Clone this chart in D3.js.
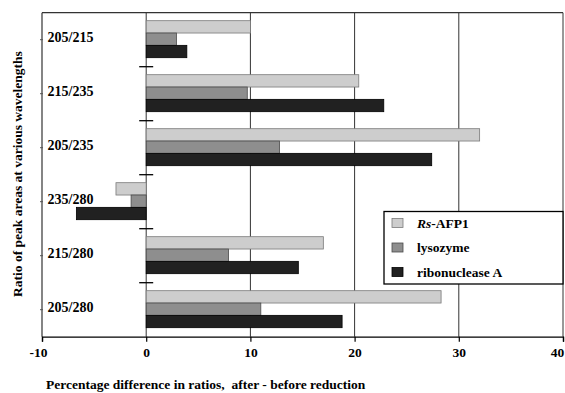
<!DOCTYPE html>
<html><head><meta charset="utf-8">
<script src="https://cdn.jsdelivr.net/npm/d3@7"></script>
<style>
body{margin:0;background:#fff;}
svg{display:block;font-family:"Liberation Serif","Times New Roman",serif;font-weight:bold;}
</style></head>
<body><svg id="c" width="565" height="393"></svg>
<script>
const categories = ["205/215","215/235","205/235","235/280","215/280","205/280"];
const seriesNames = ["Rs-AFP1","lysozyme","ribonuclease A"];
const rsAFP1 =      [10.0, 20.4, 32.0, -2.9, 17.0, 28.3];
const lysozyme =    [2.9, 9.7, 12.8, -1.45, 7.9, 11.0];
const ribonuclease = [3.9, 22.8, 27.4, -6.7, 14.6, 18.8];
const xTicks = [-10, 0, 10, 20, 30, 40];
const xTitle = "Percentage difference in ratios,  after - before reduction";
const yTitle = "Ratio of peak areas at various wavelengths";

const fills = ["#cdcdcd","#8e8e8e","#212121"];
const strokes = ["#7a7a7a","#4a4a4a","#000"];
const values = [rsAFP1, lysozyme, ribonuclease];

const svg = d3.select("#c");
const L = 42, R = 563, T = 12.7, B = 336.7;
const x = d3.scaleLinear().domain([-10, 40]).range([L, R]);
const y = d3.scaleBand().domain(categories).range([T, B]).padding(0);
const bw = y.bandwidth();
const yi = d3.scaleBand().domain(seriesNames).range([bw*0.148, bw*0.833]).padding(0);

// vertical gridlines
svg.append("g").selectAll("line").data(xTicks.filter(d => d > -10))
  .join("line").attr("x1", d => x(d)).attr("x2", d => x(d))
  .attr("y1", T).attr("y2", B).attr("stroke", "#333").attr("stroke-width", 1);

// frame
svg.append("line").attr("x1", L).attr("x2", L).attr("y1", T).attr("y2", B).attr("stroke", "#333").attr("stroke-width", 1.2);
svg.append("line").attr("x1", L).attr("x2", R).attr("y1", T).attr("y2", T).attr("stroke", "#333").attr("stroke-width", 1.2);

// left border small ticks at category centers
svg.append("g").selectAll("line").data(categories).join("line")
  .attr("x1", L - 2).attr("x2", L + 1)
  .attr("y1", d => y(d) + bw/2).attr("y2", d => y(d) + bw/2)
  .attr("stroke", "#555");

// bars
seriesNames.forEach((s, si) => {
  svg.append("g").selectAll("rect").data(categories.map((c, i) => ({c, v: values[si][i]})))
    .join("rect")
    .attr("x", d => x(Math.min(0, d.v)))
    .attr("width", d => Math.abs(x(d.v) - x(0)))
    .attr("y", d => y(d.c) + yi(s))
    .attr("height", yi.bandwidth())
    .attr("fill", fills[si]).attr("stroke", strokes[si]).attr("stroke-width", 0.8);
});

// zero line ticks at category boundaries
svg.append("g").selectAll("line").data(categories.slice(1)).join("line")
  .attr("x1", x(0) - 7).attr("x2", x(0) + 7)
  .attr("y1", d => y(d)).attr("y2", d => y(d))
  .attr("stroke", "#000").attr("stroke-width", 1.3);

// x axis
const xa = svg.append("g").attr("transform", `translate(0,${B})`)
  .call(d3.axisBottom(x).tickValues(xTicks).tickSize(5).tickFormat(d => String(d)));
xa.select(".domain").attr("stroke", "#000").attr("stroke-width", 1.3);
xa.selectAll(".tick line").attr("stroke", "#000").attr("stroke-width", 1.2);
xa.selectAll(".tick text").attr("font-family", "Liberation Serif, serif")
  .attr("font-size", 13.5).attr("font-weight", "bold").attr("fill", "#000").attr("dy", "0.9em")
  .attr("dx", d => d === -10 ? -4 : (d === 40 ? -6 : 0));

// category labels
svg.append("g").selectAll("text").data(categories).join("text")
  .attr("x", 47.5).attr("y", d => y(d) + bw/2 - 2.5)
  .attr("dy", "0.35em").attr("font-size", 14).text(d => d);

// x title
svg.append("text").attr("x", 46).attr("y", 388.5).attr("font-size", 13.5)
  .style("white-space", "pre").attr("xml:space", "preserve").text(xTitle);

// y title
svg.append("text").attr("transform", `translate(22,174) rotate(-90)`)
  .attr("text-anchor", "middle").attr("font-size", 13.5).text(yTitle);

// legend
const lg = svg.append("g");
lg.append("rect").attr("x", 384).attr("y", 211.5).attr("width", R - 384).attr("height", 72.5)
  .attr("fill", "#fff").attr("stroke", "#000").attr("stroke-width", 1.3);
seriesNames.forEach((s, i) => {
  const yy = 218.5 + i * 24.5;
  lg.append("rect").attr("x", 392).attr("y", yy).attr("width", 11).attr("height", 9)
    .attr("fill", fills[i]).attr("stroke", strokes[i]).attr("stroke-width", 0.8);
  const t = lg.append("text").attr("x", 417).attr("y", yy + 4.5).attr("dy", "0.35em").attr("font-size", 13.5);
  if (i === 0) {
    t.append("tspan").attr("font-style", "italic").text("Rs");
    t.append("tspan").text("-AFP1");
  } else t.text(s);
});
</script></body></html>
